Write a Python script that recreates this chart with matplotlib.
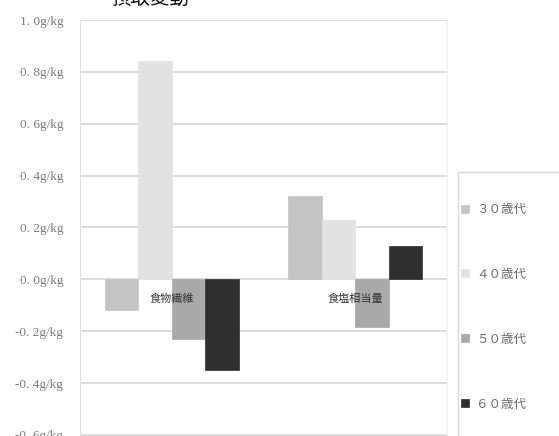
import matplotlib
matplotlib.use("Agg")
import matplotlib.pyplot as plt
from matplotlib.patches import Rectangle
import numpy as np

plt.rcParams['font.family'] = ['Noto Sans CJK JP', 'DejaVu Sans']

# 摂取変動 (g/kg)
categories = ['食物繊維', '食塩相当量']
series_names = ['３０歳代', '４０歳代', '５０歳代', '６０歳代']
values = [
    [-0.12, 0.32],    # 30代
    [0.84, 0.23],     # 40代
    [-0.23, -0.185],  # 50代
    [-0.35, 0.13],    # 60代
]
colors = ['#c4c4c4', '#e2e2e2', '#a9a9a9', '#2f2f2f']
yticks = [1.0, 0.8, 0.6, 0.4, 0.2, 0.0, -0.2, -0.4, -0.6]
ytick_labels = ['1. 0g/kg', '0. 8g/kg', '0. 6g/kg', '0. 4g/kg', '0. 2g/kg',
                '0. 0g/kg', '-0. 2g/kg', '-0. 4g/kg', '-0. 6g/kg']

W, H = 559, 436
fig = plt.figure(figsize=(W / 100, H / 100), dpi=100)
ax = fig.add_axes([80 / W, 0, (447 - 80) / W, (H - 20) / H])

x = np.arange(len(categories))
bw = 0.183
handles = []
for i, (name, vals) in enumerate(zip(series_names, values)):
    off = (i - 1.5) * bw
    b = ax.bar(x + off, vals, bw, color=colors[i], edgecolor=colors[i],
               linewidth=0.5, label=name, zorder=3)
    handles.append(b)

ax.set_xlim(-0.5, 1.5)
ax.set_ylim(-0.604, 1.0)
ax.set_yticks(yticks)
ax.set_yticklabels(ytick_labels, fontfamily='Liberation Serif', fontsize=9.5,
                   color='#7a7a7a')
ax.tick_params(axis='y', length=0, pad=12)
ax.set_xticks([])
ax.yaxis.grid(True, color='#d6d6d6', linewidth=1.2, zorder=0)
for s in ['top', 'bottom']:
    ax.spines[s].set_visible(False)
ax.spines['left'].set_color('#e0e0e0')
ax.spines['right'].set_color('#f0f0f0')

# category labels sit just under the zero line
for xi, cat in zip(x, categories):
    ax.annotate(cat, xy=(xi, 0), xytext=(0, -14), textcoords='offset points',
                ha='center', va='center', fontsize=8, color='#333333',
                zorder=5)

# title, mostly cut off at the top edge
fig.text(150 / W, 1 + 2 / H, '摂取変動', ha='center', va='center',
         fontsize=14, color='#111111')

# legend box
fig.patches.append(Rectangle((458 / W, -0.1), 0.3, 1.1 - 172 / H,
                             transform=fig.transFigure, facecolor='white',
                             edgecolor='#d8d8d8', linewidth=1.0))
fig.legend(handles=handles, labels=series_names, loc='upper left',
           bbox_to_anchor=(461 / W, 1 - 203 / H), frameon=False,
           fontsize=9, labelcolor='#6a6a6a', labelspacing=4.15,
           handlelength=0.6, handleheight=0.6, handletextpad=0.6,
           borderpad=0, borderaxespad=0)

fig.savefig('out.png', dpi=100)
